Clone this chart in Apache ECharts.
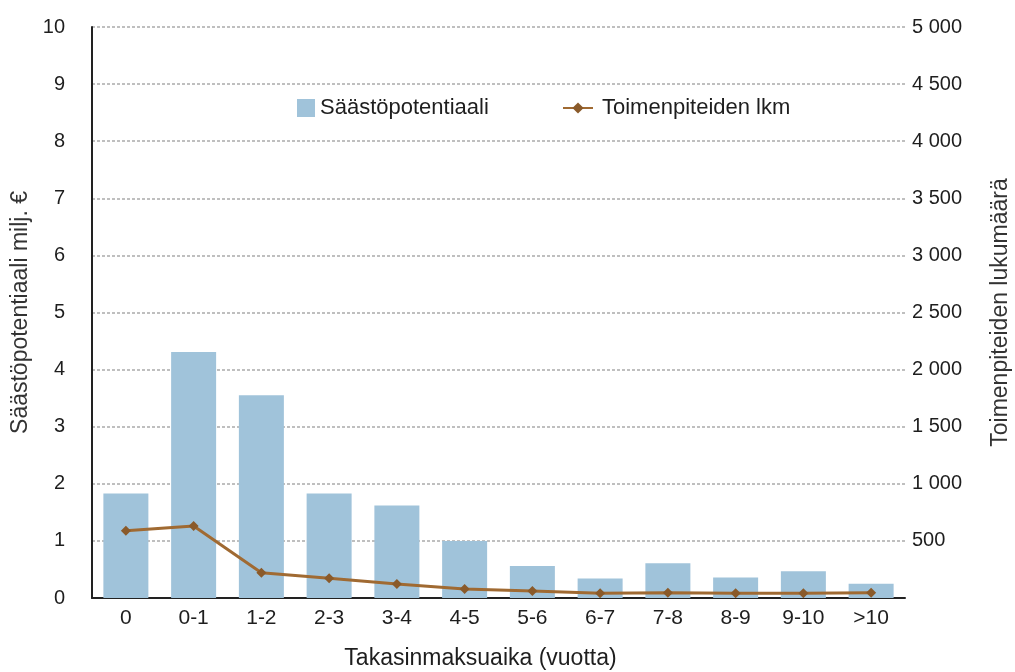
<!DOCTYPE html>
<html>
<head>
<meta charset="utf-8">
<script src="https://cdn.jsdelivr.net/npm/echarts@6/dist/echarts.min.js"></script>
<style>html,body{margin:0;padding:0;background:#fff;}#c{width:1015px;height:672px;}</style>
</head>
<body>
<div id="c"></div>
<script>
const categories = ['0','0-1','1-2','2-3','3-4','4-5','5-6','6-7','7-8','8-9','9-10','>10'];
const savings = [1.83, 4.31, 3.55, 1.83, 1.62, 1.0, 0.56, 0.34, 0.61, 0.36, 0.47, 0.25];
const counts = [589, 630, 222, 172, 123, 79, 61, 41, 46, 41, 41, 46];
const leftTicks = ['0','1','2','3','4','5','6','7','8','9','10'];
const rightTicks = ['0','500','1 000','1 500','2 000','2 500','3 000','3 500','4 000','4 500','5 000'];

const chart = echarts.init(document.getElementById('c'));
const font = 'Liberation Sans, Arial, sans-serif';
const ink = '#1e1e1e';
chart.setOption({
  animation: false,
  backgroundColor: '#fff',
  grid: {left: 92, right: 110, top: 27, bottom: 74, containLabel: false, outerBoundsMode: 'none'},
  legend: [
    {
      left: 297, top: 97, padding: 0, itemWidth: 18, itemHeight: 18,
      textStyle: {fontFamily: font, fontSize: 22, color: ink},
      data: [{name: 'Säästöpotentiaali', icon: 'rect'}]
    },
    {
      left: 562, top: 97, padding: 0, itemWidth: 30, itemHeight: 14,
      textStyle: {fontFamily: font, fontSize: 22, color: ink, padding: [0, 0, 0, 4]},
      data: [{name: 'Toimenpiteiden lkm'}]
    }
  ],
  xAxis: {
    type: 'category', data: categories,
    name: 'Takasinmaksuaika (vuotta)', nameLocation: 'middle', nameGap: 49,
    nameTextStyle: {fontFamily: font, fontSize: 23, color: ink, padding: [0, 36, 0, 0]},
    axisLine: {lineStyle: {color: '#222', width: 2}},
    axisTick: {show: false},
    axisLabel: {fontFamily: font, fontSize: 21, color: ink, margin: 10}
  },
  yAxis: [
    {
      type: 'value', min: 0, max: 10, interval: 1,
      name: 'Säästöpotentiaali milj. €', nameLocation: 'middle', nameGap: 59,
      nameTextStyle: {fontFamily: font, fontSize: 23, color: '#333'},
      axisLine: {show: true, lineStyle: {color: '#222', width: 2}},
      axisTick: {show: false},
      axisLabel: {fontFamily: font, fontSize: 20, color: ink, margin: 27,
        formatter: v => leftTicks[Math.round(v)]},
      splitLine: {show: true, lineStyle: {color: '#aaaaaa', type: [3, 2], width: 1.5}}
    },
    {
      type: 'value', min: 0, max: 5000, interval: 500, position: 'right',
      name: 'Toimenpiteiden lukumäärä', nameLocation: 'middle', nameGap: 84,
      nameTextStyle: {fontFamily: font, fontSize: 23, color: '#333'},
      axisLine: {show: false},
      axisTick: {show: false},
      axisLabel: {fontFamily: font, fontSize: 20, color: ink, margin: 7,
        formatter: v => v === 0 ? '' : rightTicks[Math.round(v / 500)]},
      splitLine: {show: false}
    }
  ],
  series: [
    {
      name: 'Säästöpotentiaali', type: 'bar', data: savings, yAxisIndex: 0,
      barWidth: 45, itemStyle: {color: '#a0c3da'}, z: 3
    },
    {
      name: 'Toimenpiteiden lkm', type: 'line', data: counts, yAxisIndex: 1,
      symbol: 'diamond', symbolSize: 10,
      lineStyle: {color: '#a06a32', width: 3},
      itemStyle: {color: '#8a5a2a'}, z: 4
    }
  ]
});
</script>
</body>
</html>
